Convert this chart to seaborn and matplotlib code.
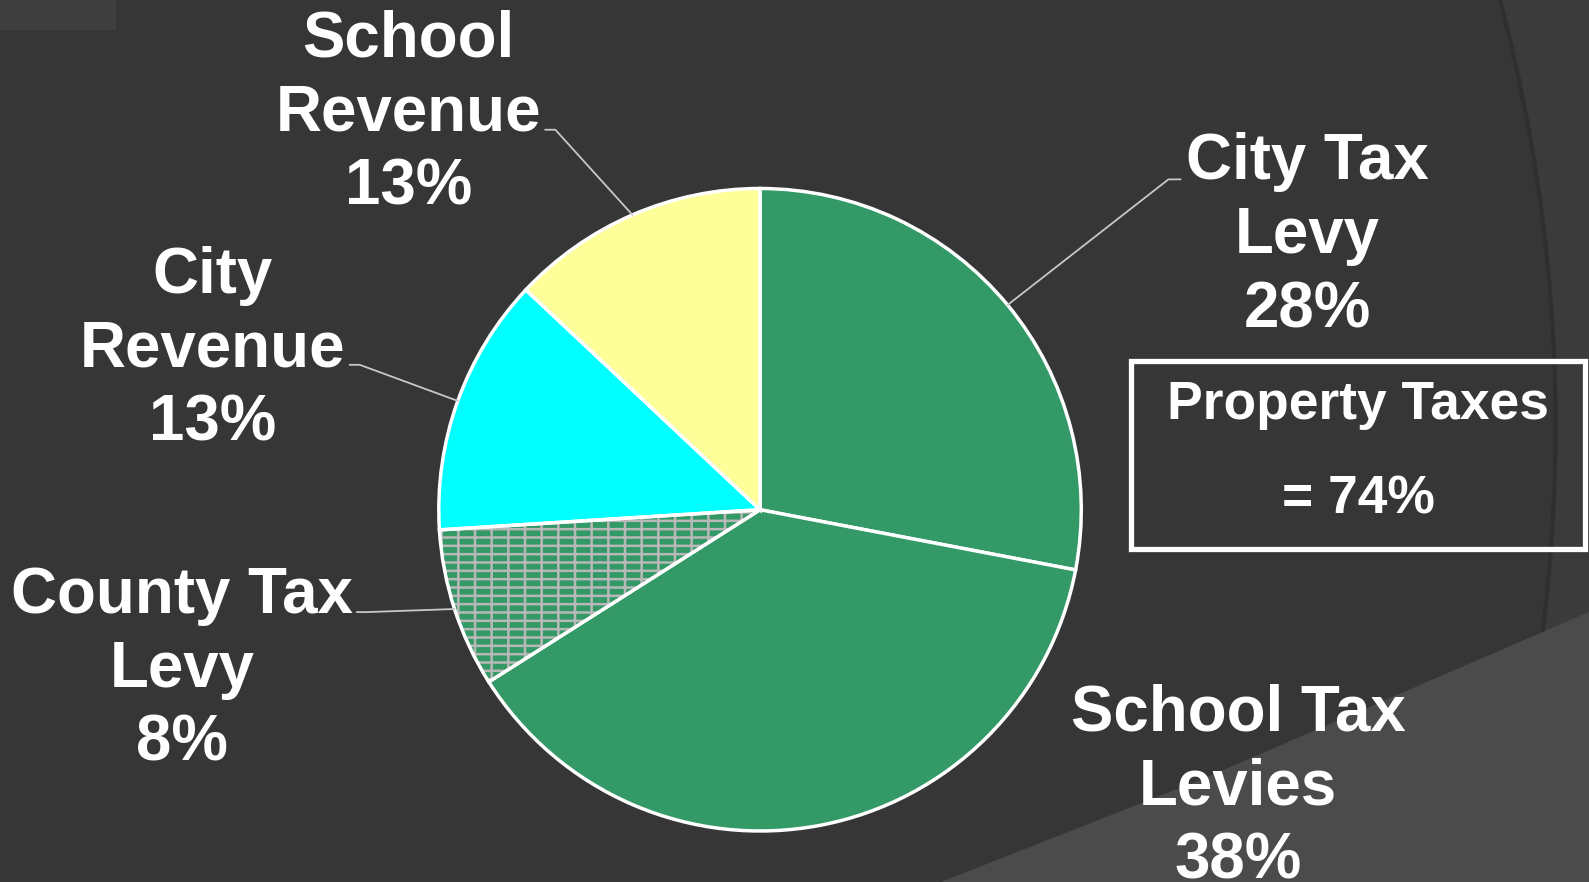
import matplotlib
matplotlib.use("Agg")
import matplotlib.pyplot as plt
import matplotlib.patches as mpatches
import numpy as np
import seaborn as sns

# ---- data ----
categories = ["City Tax\nLevy", "School Tax\nLevies", "County Tax\nLevy", "City\nRevenue", "School\nRevenue"]
values = [28, 38, 8, 13, 13]
colors = ["#339966", "#339966", "#339966", "#00FFFF", "#FFFF99"]
box_title = "Property Taxes"
box_value = "= 74%"

W, H = 1589, 882
S = 1589 / 1568  # layout measured on a scaled preview

sns.set_theme(style="dark", rc={"axes.facecolor": "#363636", "figure.facecolor": "#363636"})
plt.rcParams["font.family"] = ["Liberation Sans", "DejaVu Sans"]
plt.rcParams["hatch.linewidth"] = 1.8

fig = plt.figure(figsize=(W / 100, H / 100), dpi=100)
ax = fig.add_axes([0, 0, 1, 1])
fig.patch.set_facecolor("#363636")

def X(x):
    return x * S

def Y(y):
    return H - y * S

# ---- background decoration ----
ax.add_patch(mpatches.Rectangle((0, 0), W, H, facecolor="#3b3b3b", edgecolor="none", zorder=-2))
ax.add_patch(mpatches.Circle((X(-96), Y(420)), 1631 * S, facecolor="#363636", edgecolor="#2f2f2f",
                             lw=3, zorder=-1))
light = mpatches.Polygon([(941, H - 882), (1200, H - 780), (1450, H - 672), (1589, H - 612), (W, 0)],
                         closed=True, facecolor="#4b4b4b", edgecolor="none", zorder=-0.5)
ax.add_patch(light)
ax.add_patch(mpatches.Rectangle((0, H - 30), 116, 30, facecolor="#3f3f3f", edgecolor="none", zorder=-0.4))

# ---- pie ----
cx, cy, r = X(750), Y(503), 317 * S
wedges, _ = ax.pie(values, colors=colors, startangle=90, counterclock=False,
                   center=(cx, cy), radius=r, frame=True,
                   wedgeprops=dict(edgecolor="white", linewidth=2.5))
ax.set_xlim(0, W)
ax.set_ylim(0, H)
ax.set_aspect("auto")
ax.axis("off")

# brick-like hatch on County Tax Levy
cw = wedges[2]
cw.set_facecolor("#339966")
cw.set_edgecolor("#b8b8b8")
cw.set_hatch("--|")
cw.set_linewidth(0)
outline = mpatches.Wedge(cw.center, cw.r, cw.theta1, cw.theta2, fill=False,
                         edgecolor="white", linewidth=2.5, zorder=cw.get_zorder() + 0.1)
ax.add_patch(outline)

# ---- labels ----
total = sum(values)
label_pos = [(1290, 233), (1222, 777), (180, 661), (210, 345), (403, 112)]
leader_end = [(1165, 177, 1153), None, (352, 604, 362), (345, 360, 355), (538, 128, 548)]
for w, cat, v, pos, le in zip(wedges, categories, values, label_pos, leader_end):
    ax.text(X(pos[0]), Y(pos[1]), f"{cat}\n{round(v / total * 100)}%", ha="center", va="center",
            color="white", fontsize=45.8, fontweight="bold", linespacing=1.3, zorder=5)
    if le is not None:
        mid = np.deg2rad((w.theta1 + w.theta2) / 2)
        ex, ey = cx + r * np.cos(mid), cy + r * np.sin(mid)
        ax.plot([ex, X(le[2]), X(le[0])], [ey, Y(le[1]), Y(le[1])], color="#c8c8c8", lw=1.3, zorder=4)

# ---- property taxes box ----
ax.add_patch(mpatches.Rectangle((X(1116), Y(542)), 448 * S, 186 * S, fill=False, edgecolor="white",
                                linewidth=3.8, zorder=5))
ax.text(X(1340), Y(400), box_title, ha="center", va="center", color="white",
        fontsize=38.4, fontweight="bold", zorder=6)
ax.text(X(1340), Y(493), box_value, ha="center", va="center", color="white",
        fontsize=38.4, fontweight="bold", zorder=6)

fig.savefig("out.png", dpi=100, facecolor=fig.get_facecolor())
